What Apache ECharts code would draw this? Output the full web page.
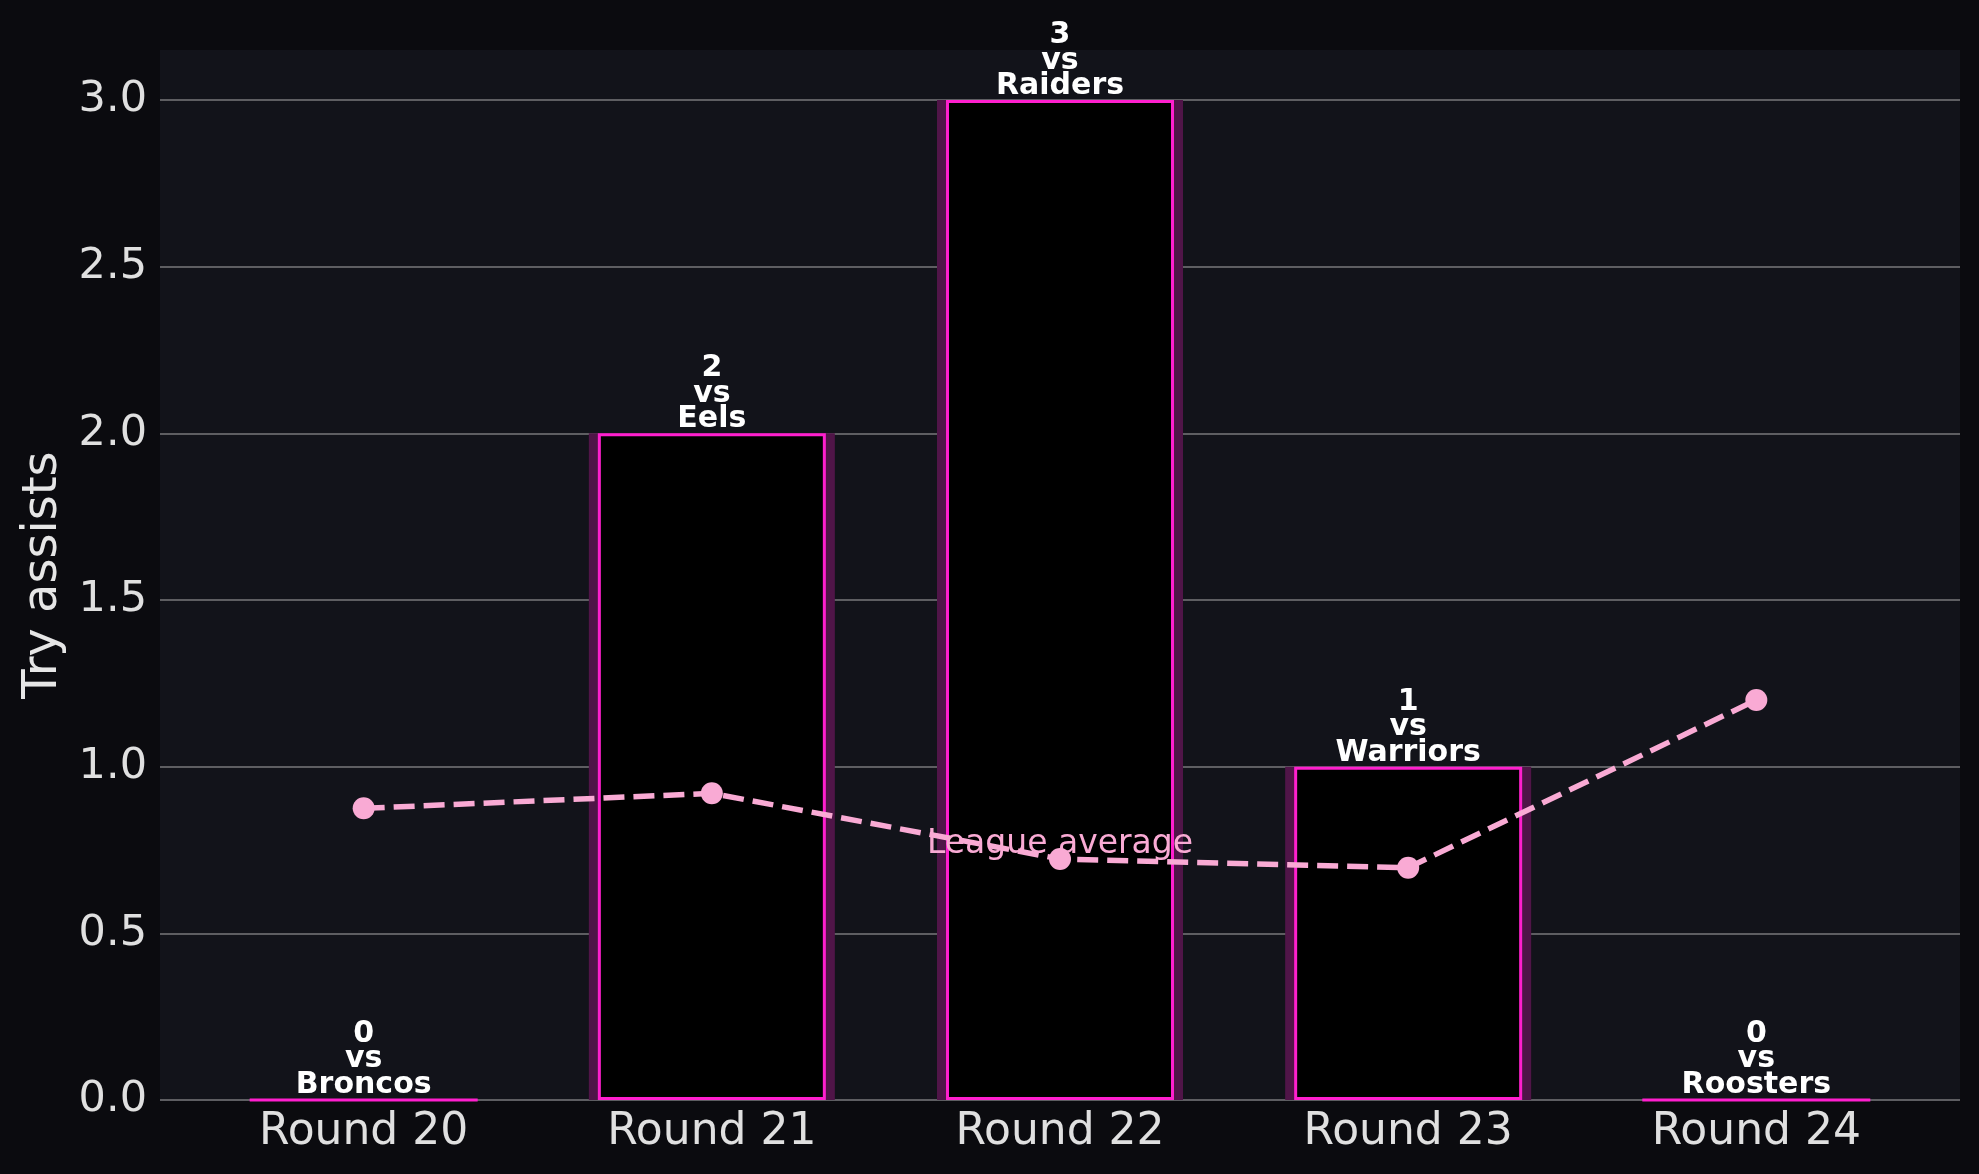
<!DOCTYPE html>
<html>
<head>
    <meta charset="utf-8">
    <title>Try assists</title>
    <script src="https://cdn.jsdelivr.net/npm/echarts@6/dist/echarts.min.js"></script>
    <style>
        html, body { margin: 0; padding: 0; background: #0b0b0f; }
    </style>
</head>
<body>
<div id="main" style="width: 1979px;height:1174px;"></div>
<script type="text/javascript">
    // data
    var rounds = ['Round 20', 'Round 21', 'Round 22', 'Round 23', 'Round 24'];
    var opponents = ['Broncos', 'Eels', 'Raiders', 'Warriors', 'Roosters'];
    var tryAssists = [0, 2, 3, 1, 0];
    var leagueAvg = [0.875, 0.92, 0.723, 0.697, 1.2];
    var yTicks = [0, 0.5, 1, 1.5, 2, 2.5, 3];

    var font = 'DejaVu Sans';
    var pink = '#f9aad4';
    var magenta = '#ff1fce';

    function pairs(arr) {
        return arr.map(function (v, i) { return [i, v]; });
    }

    var xBase = {
        type: 'value',
        min: -0.585,
        max: 4.585,
        axisLine: { show: false },
        axisTick: { show: false },
        splitLine: { show: false }
    };

    var myChart = echarts.init(document.getElementById('main'));

    myChart.setOption({
        backgroundColor: '#0b0b0f',
        animation: false,
        grid: {
            left: 160,
            right: 19,
            top: 50,
            bottom: 74,
            show: true,
            backgroundColor: '#12131a',
            borderWidth: 0,
            containLabel: false,
            outerBoundsMode: 'none'
        },
        xAxis: [
            Object.assign({}, xBase, {
                axisLabel: {
                    customValues: [0, 1, 2, 3, 4],
                    formatter: function (v) { return rounds[Math.round(v)]; },
                    color: '#e0e0e0',
                    fontFamily: font,
                    fontSize: 44,
                    margin: 11
                }
            }),
            // second hidden axis so the glow bars centre on their own
            Object.assign({}, xBase, { show: false, position: 'bottom' })
        ],
        yAxis: {
            type: 'value',
            min: 0,
            max: 3.15,
            interval: 0.5,
            name: 'Try assists',
            nameLocation: 'middle',
            nameGap: 92,
            nameTextStyle: {
                color: '#e6e6e6',
                fontFamily: font,
                fontSize: 48
            },
            axisLine: { show: false },
            axisTick: { show: false },
            axisLabel: {
                customValues: yTicks,
                formatter: function (v) { return v.toFixed(1); },
                color: '#e0e0e0',
                fontFamily: font,
                fontSize: 43,
                margin: 13
            },
            splitLine: {
                showMaxLine: false,
                lineStyle: { color: '#5e5e62', width: 2 }
            }
        },
        series: [
            {
                name: 'glow',
                type: 'bar',
                xAxisIndex: 1,
                barWidth: 246,
                data: pairs(tryAssists),
                itemStyle: { color: '#501548' },
                silent: true
            },
            {
                name: 'Try assists',
                type: 'bar',
                xAxisIndex: 0,
                barWidth: 228,
                data: pairs(tryAssists),
                itemStyle: {
                    color: '#000000',
                    borderColor: magenta,
                    borderWidth: 3
                },
                label: {
                    show: true,
                    position: 'top',
                    distance: 1,
                    formatter: function (p) {
                        return tryAssists[p.dataIndex] + '\nvs\n' + opponents[p.dataIndex];
                    },
                    color: '#ffffff',
                    fontFamily: font,
                    fontWeight: 'bold',
                    fontSize: 30,
                    lineHeight: 25.5
                }
            },
            {
                name: 'League average',
                type: 'line',
                data: pairs(leagueAvg).map(function (d, i) {
                    if (i !== 2) return d;
                    return {
                        value: d,
                        label: {
                            show: true,
                            position: 'top',
                            distance: -13,
                            formatter: 'League average',
                            color: pink,
                            fontFamily: font,
                            fontSize: 33
                        }
                    };
                }),
                symbol: 'circle',
                symbolSize: 22,
                itemStyle: { color: pink },
                lineStyle: {
                    color: pink,
                    width: 5.5,
                    type: [21, 9]
                },
                z: 5
            }
        ]
    });
</script>
</body>
</html>
